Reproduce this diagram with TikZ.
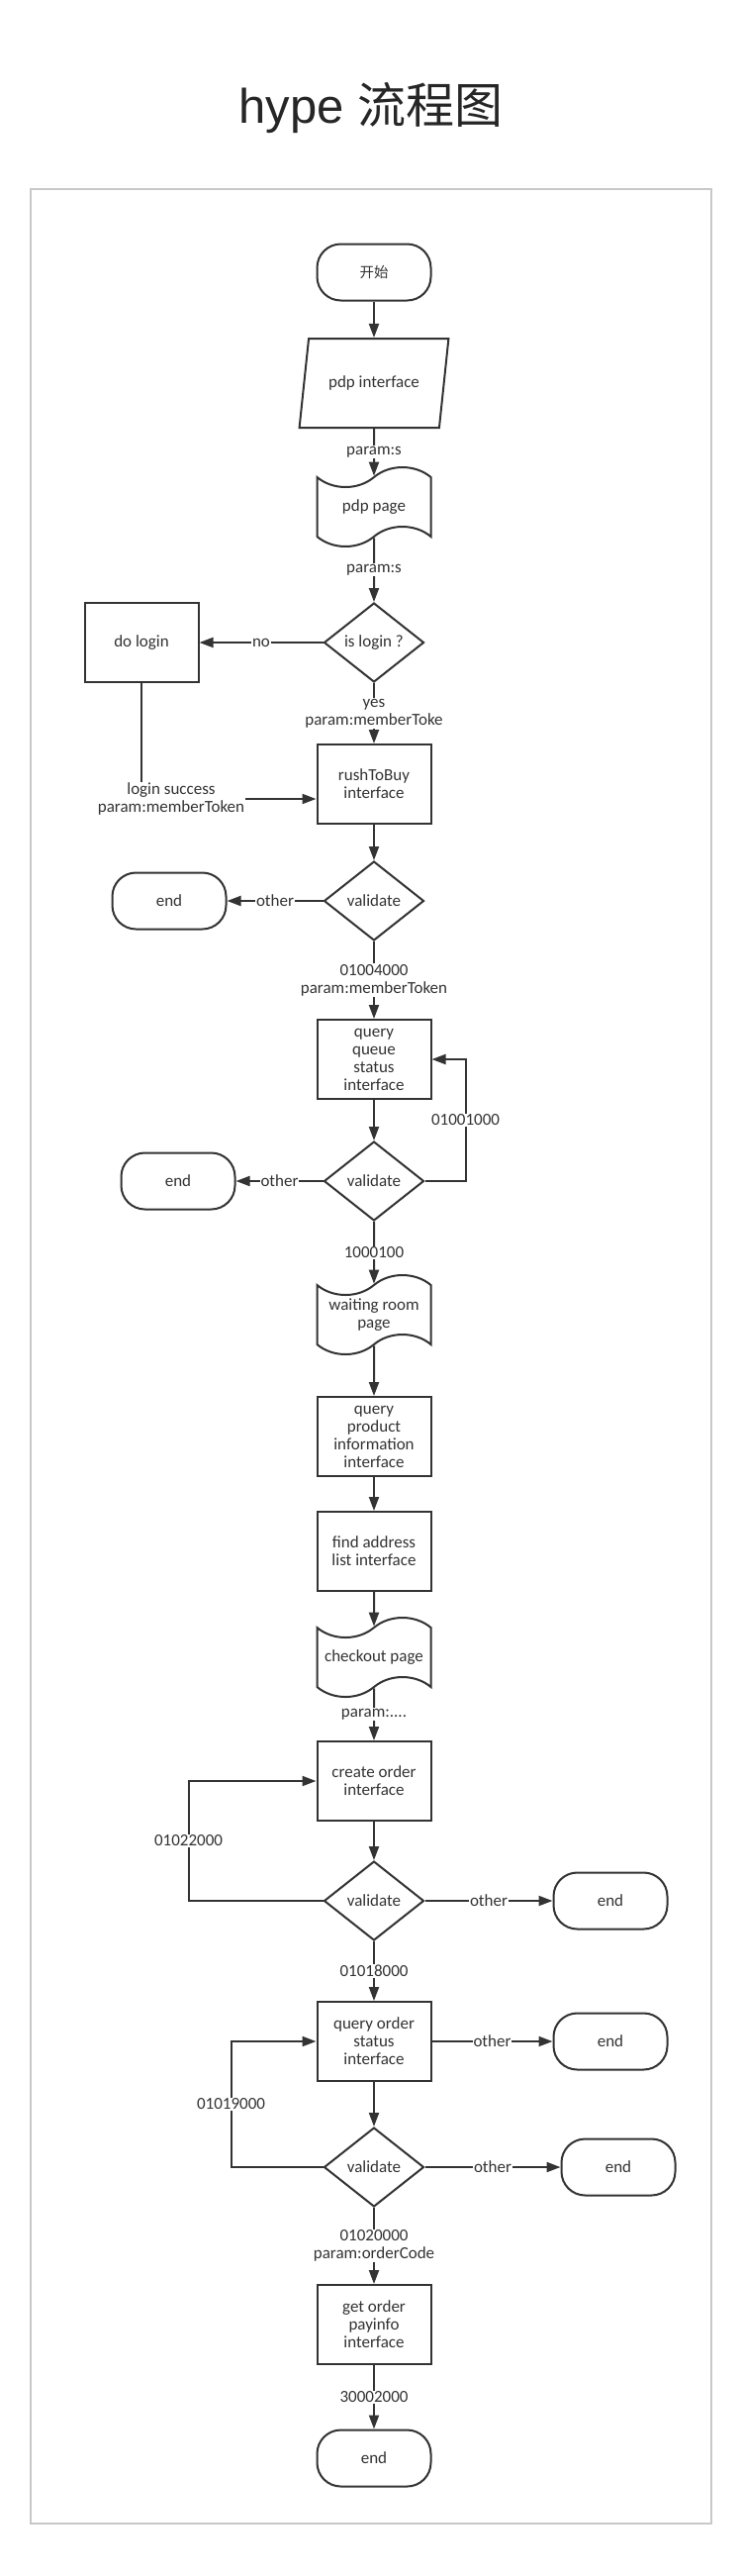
\documentclass[tikz,border=0pt]{standalone}
\usepackage{fontspec}
\setmainfont{Carlito}
\newfontfamily\cjk{Noto Sans CJK SC}
\newfontfamily\titlefont{Liberation Sans}
\usetikzlibrary{arrows.meta, shapes.geometric, shapes.symbols}
\definecolor{ink}{HTML}{333333}
\definecolor{framegray}{HTML}{C8C8C8}

\begin{document}
\begin{tikzpicture}[x=1pt, y=-1pt,
  every node/.style={text=ink, font=\fontsize{17}{18}\selectfont, align=center},
  box/.style={draw=ink, line width=2pt, minimum width=115pt, minimum height=80pt, inner sep=2pt},
  term/.style={draw=ink, line width=2pt, rounded corners=24pt, minimum width=115pt, minimum height=57pt},
  decide/.style={draw=ink, line width=2pt, diamond, minimum width=101pt, minimum height=80pt, inner sep=0pt},
  io/.style={draw=ink, line width=2pt, trapezium, trapezium left angle=71.57, trapezium right angle=108.43,
             trapezium stretches=true, minimum width=151pt, minimum height=90pt},
  tapebox/.style={draw=ink, line width=2pt, tape, tape bend top=in and out, tape bend bottom=in and out,
                  tape bend height=20pt, minimum width=115pt, minimum height=80pt},
  lbl/.style={fill=white, inner sep=1pt},
  arr/.style={draw=ink, line width=2pt, -{Triangle[length=14pt, width=10pt]}},
]
  \useasboundingbox[fill=white] (0,0) rectangle (750,2602);
  \node[font=\fontsize{49}{58}\selectfont\titlefont, text=black!85, anchor=base] (title) at (375,124) {hype {\cjk 流程图}};
  \draw[framegray, line width=1.5pt] (31,191) rectangle (719,2549);

  \node[term] (start) at (378,275) {\cjk\fontsize{14.5}{18}\selectfont 开始};
  \node[io] (pdpif) at (378,387) {pdp interface};
  \node[tapebox] (pdppage) at (378,512) {pdp page};
  \node[decide] (islogin) at (378,649) {is login ?};
  \node[box] (dologin) at (143,649) {do login};
  \node[box] (rush) at (378,792) {rushToBuy\\interface};
  \node[decide] (val1) at (378,910) {validate};
  \node[term] (end1) at (171,910) {end};
  \node[box] (queue) at (378,1070) {query\\queue\\status\\interface};
  \node[decide] (val2) at (378,1193) {validate};
  \node[term] (end2) at (180,1193) {end};
  \node[tapebox] (wait) at (378,1328) {waiting room\\page};
  \node[box] (product) at (378,1451) {query\\product\\information\\interface};
  \node[box] (address) at (378,1567) {find address\\list interface};
  \node[tapebox] (checkout) at (378,1674) {checkout page};
  \node[box] (create) at (378,1799) {create order\\interface};
  \node[decide] (val3) at (378,1920) {validate};
  \node[term] (end3) at (617,1920) {end};
  \node[box] (status) at (378,2062) {query order\\status\\interface};
  \node[term] (end4) at (617,2062) {end};
  \node[decide] (val4) at (378,2189) {validate};
  \node[term] (end5) at (625,2189) {end};
  \node[box] (payinfo) at (378,2348) {get order\\payinfo\\interface};
  \node[term] (finish) at (378,2483) {end};

  \draw[arr] (start) -- (pdpif);
  \draw[arr] (pdpif) -- node[lbl] {param:s} (pdppage);
  \draw[arr] (pdppage) -- node[lbl] {param:s} (islogin);
  \draw[arr] (islogin) -- node[lbl] {no} (dologin);
  \draw[arr] (islogin) -- node[lbl] {yes\\param:memberToke} (rush);
  \draw[arr] (dologin.south) |- node[lbl, xshift=30pt] {login success\\param:memberToken} ([yshift=-15pt]rush.west);
  \draw[arr] (rush) -- (val1);
  \draw[arr] (val1) -- node[lbl] {other} (end1);
  \draw[arr] (val1) -- node[lbl] {01004000\\param:memberToken} (queue);
  \draw[arr] (queue) -- (val2);
  \draw[arr] (val2) -- node[lbl] {other} (end2);
  \draw[arr] (val2.east) -- ++(41,0) |- node[lbl, pos=0.25] {01001000} (queue.east);
  \draw[arr] (val2) -- node[lbl] {1000100} (wait);
  \draw[arr] (wait) -- (product);
  \draw[arr] (product) -- (address);
  \draw[arr] (address) -- (checkout);
  \draw[arr] (checkout) -- node[lbl] {param:....} (create);
  \draw[arr] (create) -- (val3);
  \draw[arr] (val3) -- node[lbl] {other} (end3);
  \draw[arr] (val3.west) -- ++(-136,0) |- node[lbl, pos=0.25] {01022000} (create.west);
  \draw[arr] (val3) -- node[lbl] {01018000} (status);
  \draw[arr] (status) -- node[lbl] {other} (end4);
  \draw[arr] (status) -- (val4);
  \draw[arr] (val4) -- node[lbl] {other} (end5);
  \draw[arr] (val4.west) -- ++(-93,0) |- node[lbl, pos=0.25] {01019000} (status.west);
  \draw[arr] (val4) -- node[lbl] {01020000\\param:orderCode} (payinfo);
  \draw[arr] (payinfo) -- node[lbl] {30002000} (finish);
\end{tikzpicture}
\end{document}
